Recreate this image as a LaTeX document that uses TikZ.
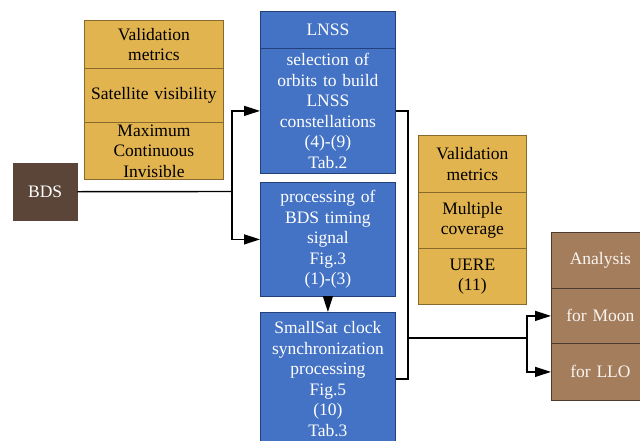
\documentclass[tikz,border=0pt]{standalone}
\usepackage{fontspec}
\setmainfont{Liberation Serif}
\usetikzlibrary{arrows.meta}
\definecolor{cblue}{HTML}{4472C4}
\definecolor{cblueline}{HTML}{24407A}
\definecolor{cyel}{HTML}{E2B450}
\definecolor{cyelline}{HTML}{8A6A2C}
\definecolor{cbrown}{HTML}{A47D5C}
\definecolor{cbrownline}{HTML}{4D3B2E}
\definecolor{cbds}{HTML}{5A4538}
\newcommand\mkcell[7]{%
  \node[#6, anchor=north west, inner sep=0pt,
        minimum width={(#4-#2)*1pt}, minimum height={(#5-#3)*1pt},
        text width={(#4-#2-6)*1pt}, align=center] (#1) at (#2,#3) {#7};}
\begin{document}
\begin{tikzpicture}[x=1pt,y=-1pt,
  every node/.style={font=\fontsize{17.5}{20.5}\selectfont},
  bluecell/.style={draw=cblueline, line width=0.8pt, fill=cblue, text=white},
  yelcell/.style={draw=cyelline, line width=0.8pt, fill=cyel, text=black},
  browncell/.style={draw=cbrownline, line width=0.8pt, fill=cbrown, text=white!92!brown},
  bdscell/.style={draw=cbds, fill=cbds, text=white},
  conn/.style={line width=1.4pt, black},
  arr/.style={conn, -{Triangle[length=16pt,width=10pt]}}]
\useasboundingbox (0,0) rectangle (640,440);
\fill[white] (0,0) rectangle (640,440);
\begin{scope}
\clip (0,0) rectangle (640,440);
% left validation metrics
\mkcell{valA}{84}{20}{223}{68}{yelcell}{Validation\\metrics}
\mkcell{valB}{84}{68}{223}{122}{yelcell}{Satellite visibility}
\mkcell{valC}{84}{122}{223}{179}{yelcell}{Maximum\\Continuous\\Invisible}
% BDS
\mkcell{bds}{13}{163}{77}{220}{bdscell}{BDS}
% blue column
\mkcell{lnssA}{260}{11}{395}{48}{bluecell}{LNSS}
\mkcell{lnssB}{260}{48}{395}{173}{bluecell}{selection of\\orbits to build\\LNSS\\constellations\\(4)-(9)\\Tab.2}
\mkcell{proc}{260}{182}{395}{296}{bluecell}{processing of\\BDS timing\\signal\\Fig.3\\(1)-(3)}
\mkcell{small}{260}{312}{395}{445}{bluecell}{SmallSat clock\\synchronization\\processing\\Fig.5\\(10)\\Tab.3}
% middle validation metrics
\mkcell{valD}{418}{135}{526}{192}{yelcell}{Validation\\metrics}
\mkcell{valE}{418}{192}{526}{248}{yelcell}{Multiple\\coverage}
\mkcell{valF}{418}{248}{526}{304}{yelcell}{UERE\\(11)}
% analysis
\mkcell{anA}{551}{232}{649}{288}{browncell}{Analysis}
\mkcell{anB}{551}{288}{649}{343}{browncell}{for Moon}
\mkcell{anC}{551}{343}{649}{400}{browncell}{for LLO}
\end{scope}
% connectors
\coordinate (jx) at (232,191.5);
\coordinate (rx) at (408,338);
\coordinate (sx) at (527,338);
\draw[conn] (bds.east) -- (jx);
\draw[arr] (jx) |- (lnssB.west);
\draw[arr] (jx) |- (proc.west);
\draw[arr] (proc.south) -- (small.north);
\draw[conn] (lnssB.east) -| (rx) |- (small.east);
\draw[conn] (rx) -- (sx);
\draw[arr] (sx) |- (anB.west);
\draw[arr] (sx) |- (anC.west);
\end{tikzpicture}
\end{document}
